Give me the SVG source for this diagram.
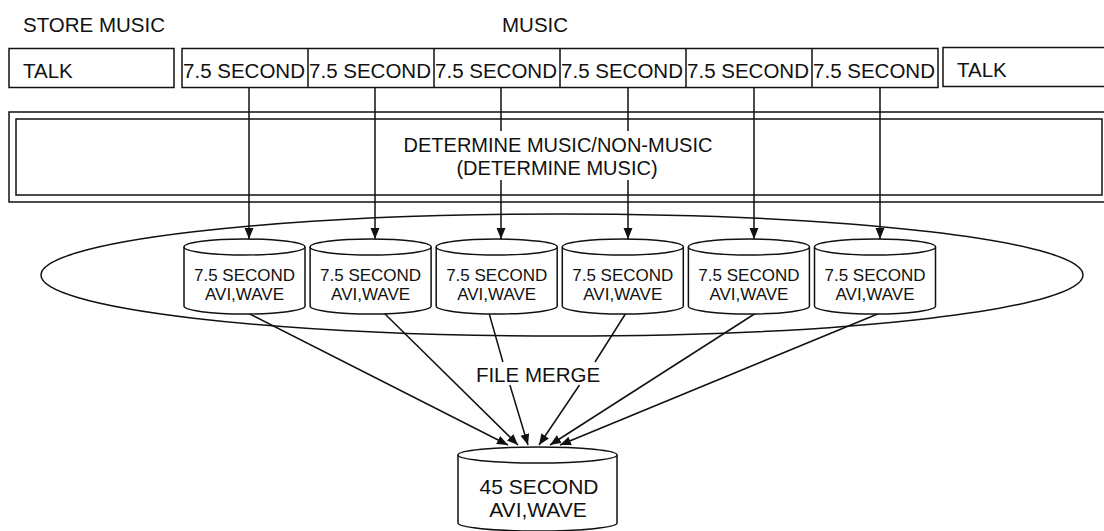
<svg xmlns="http://www.w3.org/2000/svg" width="1104" height="531" viewBox="0 0 1104 531">
<style>
.ln{fill:none;stroke:#111;stroke-width:1.5}
.bx{fill:#fff;stroke:#111;stroke-width:1.5}
.t{font-family:"Liberation Sans",Arial,sans-serif;fill:#111}
.t20{font-size:20.5px}
.t17{font-size:17px}
.m{text-anchor:middle}
</style>
<defs>
<marker id="ah" markerUnits="userSpaceOnUse" markerWidth="12" markerHeight="10" refX="11" refY="4.5" orient="auto">
<path d="M0,0 L11,4.5 L0,9 z" fill="#111"/>
</marker>
<g id="cyl">
<path class="bx" d="M-60.5,8 V67 A60.5,8 0 0 0 60.5,67 V8"/>
<ellipse class="bx" cx="0" cy="8" rx="60.5" ry="8"/>
</g>
</defs>
<rect width="1104" height="531" fill="#fff"/>

<text class="t t20" x="23" y="32">STORE MUSIC</text>
<text class="t t20" x="502" y="32">MUSIC</text>

<g id="talk-left">
<rect class="bx" x="9" y="48.5" width="165" height="39"/>
<text class="t t20" x="23" y="78">TALK</text>
</g>
<g id="segments">
<rect class="bx" x="182" y="48.5" width="756" height="39"/>
<path class="ln" d="M308,48.5V87.5M434,48.5V87.5M560,48.5V87.5M686,48.5V87.5M812,48.5V87.5"/>
<text class="t t20 m" x="244" y="78">7.5 SECOND</text>
<text class="t t20 m" x="370" y="78">7.5 SECOND</text>
<text class="t t20 m" x="496" y="78">7.5 SECOND</text>
<text class="t t20 m" x="622" y="78">7.5 SECOND</text>
<text class="t t20 m" x="748" y="78">7.5 SECOND</text>
<text class="t t20 m" x="874" y="78">7.5 SECOND</text>
</g>
<g id="talk-right">
<rect class="bx" x="943" y="47.5" width="170" height="39"/>
<text class="t t20" x="957" y="77">TALK</text>
</g>

<g id="determine">
<rect class="ln" x="9" y="112" width="1104" height="90"/>
<rect class="ln" x="16" y="119" width="1086" height="76"/>
<text class="t m" style="font-size:20px" x="558" y="151.5">DETERMINE MUSIC/NON-MUSIC</text>
<text class="t m" style="font-size:20px" x="557" y="174.5">(DETERMINE MUSIC)</text>
</g>

<g id="storage-group">
<ellipse class="ln" cx="562" cy="275" rx="521" ry="61"/>
</g>

<g id="connectors">
<path class="ln" d="M249,88V239" marker-end="url(#ah)"/>
<path class="ln" d="M375,88V239" marker-end="url(#ah)"/>
<path class="ln" d="M501,88V131M501,180V239" marker-end="url(#ah)"/>
<path class="ln" d="M628,88V131M628,180V239" marker-end="url(#ah)"/>
<path class="ln" d="M754,88V239" marker-end="url(#ah)"/>
<path class="ln" d="M880,88V239" marker-end="url(#ah)"/>
<path class="ln" d="M248,313L508,445" marker-end="url(#ah)"/>
<path class="ln" d="M384,313L518,445" marker-end="url(#ah)"/>
<path class="ln" d="M489,313L502.9,362M509.9,385L528,445" marker-end="url(#ah)"/>
<path class="ln" d="M626,313L595,362M579.5,385L539,445" marker-end="url(#ah)"/>
<path class="ln" d="M756,313L550,445" marker-end="url(#ah)"/>
<path class="ln" d="M880,313L560,445" marker-end="url(#ah)"/>
</g>

<g id="file1">
<use href="#cyl" x="244.5" y="239"/>
<text class="t t17 m" x="244.5" y="281">7.5 SECOND</text>
<text class="t t17 m" x="244.5" y="300">AVI,WAVE</text>
</g>
<g id="file2">
<use href="#cyl" x="370.6" y="239"/>
<text class="t t17 m" x="370.6" y="281">7.5 SECOND</text>
<text class="t t17 m" x="370.6" y="300">AVI,WAVE</text>
</g>
<g id="file3">
<use href="#cyl" x="496.7" y="239"/>
<text class="t t17 m" x="496.7" y="281">7.5 SECOND</text>
<text class="t t17 m" x="496.7" y="300">AVI,WAVE</text>
</g>
<g id="file4">
<use href="#cyl" x="622.8" y="239"/>
<text class="t t17 m" x="622.8" y="281">7.5 SECOND</text>
<text class="t t17 m" x="622.8" y="300">AVI,WAVE</text>
</g>
<g id="file5">
<use href="#cyl" x="748.9" y="239"/>
<text class="t t17 m" x="748.9" y="281">7.5 SECOND</text>
<text class="t t17 m" x="748.9" y="300">AVI,WAVE</text>
</g>
<g id="file6">
<use href="#cyl" x="875" y="239"/>
<text class="t t17 m" x="875" y="281">7.5 SECOND</text>
<text class="t t17 m" x="875" y="300">AVI,WAVE</text>
</g>

<g id="merge-label">
<text class="t t20 m" x="538" y="382">FILE MERGE</text>
</g>

<g id="merged-file">
<path class="bx" d="M458,455 V523 A79.5,8 0 0 0 617,523 V455"/>
<ellipse class="bx" cx="537.5" cy="455" rx="79.5" ry="8"/>
<text class="t m" style="font-size:21px" x="539" y="494">45 SECOND</text>
<text class="t m" style="font-size:21px" x="538" y="517">AVI,WAVE</text>
</g>
</svg>
